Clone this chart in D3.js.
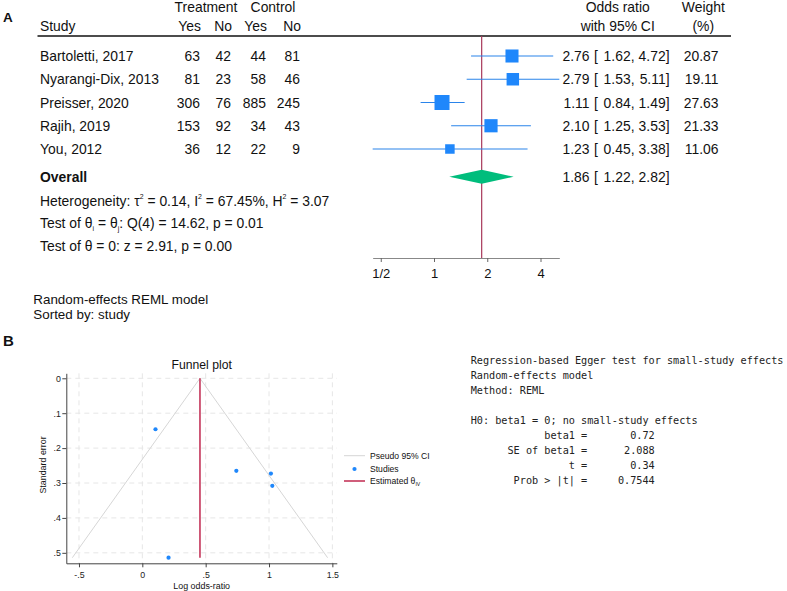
<!DOCTYPE html>
<html>
<head>
<meta charset="utf-8">
<script src="https://cdn.jsdelivr.net/npm/d3@7"></script>
<style>
body { margin: 0; background: #fff; }
svg { font-family: "Liberation Sans", Arial, sans-serif; }
</style>
</head>
<body>
<svg width="787" height="591"></svg>
<script>
// forest plot data (panel A)
var studies   = ["Bartoletti, 2017", "Nyarangi-Dix, 2013", "Preisser, 2020", "Rajih, 2019", "You, 2012"];
var treatYes  = [63, 81, 306, 153, 36];
var treatNo   = [42, 23, 76, 92, 12];
var ctrlYes   = [44, 58, 885, 34, 22];
var ctrlNo    = [81, 46, 245, 43, 9];
var oddsRatio = [2.76, 2.79, 1.11, 2.10, 1.23];
var ciLow     = [1.62, 1.53, 0.84, 1.25, 0.45];
var ciHigh    = [4.72, 5.11, 1.49, 3.53, 3.38];
var weights   = [20.87, 19.11, 27.63, 21.33, 11.06];
var overallOR = [1.86, 1.22, 2.82];   // estimate, low, high
var forestTicks = [0.5, 1, 2, 4];
var forestTickLabels = ["1/2", "1", "2", "4"];

// funnel plot data (panel B)
var logOR   = [1.015, 1.026, 0.104, 0.742, 0.207];
var stdErr  = [0.273, 0.308, 0.146, 0.265, 0.514];
var thetaIV = 0.455;
var funnelXTicks = [-0.5, 0, 0.5, 1, 1.5];
var funnelYTicks = [0, 0.1, 0.2, 0.3, 0.4, 0.5];

var eggerLines = [
  "Regression-based Egger test for small-study effects",
  "Random-effects model",
  "Method: REML",
  "",
  "H0: beta1 = 0; no small-study effects",
  "            beta1 =       0.72",
  "      SE of beta1 =      2.088",
  "                t =       0.34",
  "       Prob > |t| =     0.7544"
];

var svg = d3.select("svg");

function fmt2(v) { return d3.format(".2f")(v); }

// plain text helper, y is the visual centre of the capitals
function label(g, x, y, s, anchor, size, bold) {
  return g.append("text")
    .attr("x", x)
    .attr("y", y + 0.36 * size)
    .attr("text-anchor", anchor || "start")
    .attr("font-size", size)
    .attr("font-weight", bold ? "bold" : null)
    .attr("fill", "#111")
    .text(s);
}

// text with raised / lowered bits: parts = [[string, shift]]
function richLabel(g, x, y, parts, size, small) {
  var t = g.append("text")
    .attr("x", x)
    .attr("y", y + 0.36 * size)
    .attr("font-size", size)
    .attr("fill", "#111");
  var cur = 0;
  parts.forEach(function(p) {
    var shift = p[1] || 0;
    t.append("tspan")
      .attr("dy", shift - cur)
      .attr("font-size", shift ? size * (small || 0.5) : size)
      .text(p[0]);
    cur = shift;
  });
  return t;
}

// ---------------- panel A ----------------
var A = svg.append("g");
label(A, 3, 17, "A", "start", 13.5, true);

var fs = 13.9;
var rowY = d3.scalePoint().domain(studies).range([56, 149]);
var overallY = 176.7;

// columns
var colX = [200, 231, 266, 300];
var cols = [treatYes, treatNo, ctrlYes, ctrlNo];

label(A, 206, 7, "Treatment", "middle", fs);
label(A, 273, 7, "Control", "middle", fs);
label(A, 40, 26, "Study", "start", fs);
["Yes", "No", "Yes", "No"].forEach(function(h, i) {
  label(A, colX[i] + 1, 26, h, "end", fs);
});
label(A, 617.7, 7, "Odds ratio", "middle", fs);
label(A, 617.7, 26, "with 95% CI", "middle", fs);
label(A, 703.3, 7, "Weight", "middle", fs);
label(A, 703.3, 26, "(%)", "middle", fs);

A.append("line")
  .attr("x1", 37.5).attr("x2", 731)
  .attr("y1", 36).attr("y2", 36)
  .attr("stroke", "#111").attr("stroke-width", 1.3);

// log scale for the marks; the axis spans the CI extremes
var xOR = d3.scaleLog().domain([1, 4]).range([434, 540.5]);
var axLo = d3.min(ciLow), axHi = d3.max(ciHigh);
var xAx = d3.scaleLog().domain([axLo, axHi]).range([xOR(axLo), xOR(axHi)]);
var boxSize = d3.scaleSqrt().domain([0, 27.63]).range([0, 15]);

studies.forEach(function(s, i) {
  var y = rowY(s);
  label(A, 40, y, s, "start", fs);
  cols.forEach(function(c, j) {
    label(A, colX[j], y, c[i], "end", fs);
  });
  label(A, 589.5, y, fmt2(oddsRatio[i]), "end", fs);
  label(A, 594, y, "[", "start", fs);
  label(A, 634.5, y, fmt2(ciLow[i]) + ",", "end", fs);
  label(A, 669.5, y, fmt2(ciHigh[i]) + "]", "end", fs);
  label(A, 718.5, y, fmt2(weights[i]), "end", fs);
});

// reference line at the overall estimate
A.append("line")
  .attr("x1", xOR(overallOR[0])).attr("x2", xOR(overallOR[0]))
  .attr("y1", 36).attr("y2", 258)
  .attr("stroke", "#a8385a").attr("stroke-width", 1.2);

var marks = A.append("g");
marks.selectAll("line.ci")
  .data(studies)
  .enter().append("line")
    .attr("class", "ci")
    .attr("x1", function(d, i) { return xOR(ciLow[i]); })
    .attr("x2", function(d, i) { return xOR(ciHigh[i]); })
    .attr("y1", function(d) { return rowY(d); })
    .attr("y2", function(d) { return rowY(d); })
    .attr("stroke", "#2a84ea")
    .attr("stroke-width", 1.1);

marks.selectAll("rect.box")
  .data(studies)
  .enter().append("rect")
    .attr("class", "box")
    .attr("x", function(d, i) { return xOR(oddsRatio[i]) - boxSize(weights[i]) / 2; })
    .attr("y", function(d, i) { return rowY(d) - boxSize(weights[i]) / 2; })
    .attr("width", function(d, i) { return boxSize(weights[i]); })
    .attr("height", function(d, i) { return boxSize(weights[i]); })
    .attr("fill", "#1f87fb");

// overall diamond
A.append("path")
  .attr("d", "M" + xOR(overallOR[1]) + "," + overallY +
             "L" + xOR(overallOR[0]) + "," + (overallY - 7) +
             "L" + xOR(overallOR[2]) + "," + overallY +
             "L" + xOR(overallOR[0]) + "," + (overallY + 7) + "Z")
  .attr("fill", "#00bd7c");

label(A, 40, overallY, "Overall", "start", fs, true);
label(A, 589.5, overallY, fmt2(overallOR[0]), "end", fs);
label(A, 594, overallY, "[", "start", fs);
label(A, 634.5, overallY, fmt2(overallOR[1]) + ",", "end", fs);
label(A, 669.5, overallY, fmt2(overallOR[2]) + "]", "end", fs);

richLabel(A, 40, 200.7, [["Heterogeneity: \u03c4", 0], ["2", -6.5], [" = 0.14, I", 0], ["2", -6.5],
  [" = 67.45%, H", 0], ["2", -6.5], [" = 3.07", 0]], fs);
richLabel(A, 40, 223.3, [["Test of \u03b8", 0], ["i", 2.5], [" = \u03b8", 0], ["j", 2.5],
  [": Q(4) = 14.62, p = 0.01", 0]], fs);
label(A, 40, 246, "Test of \u03b8 = 0: z = 2.91, p = 0.00", "start", fs);

var forestAxis = d3.axisBottom(xAx)
  .tickValues(forestTicks)
  .tickFormat(function(d, i) { return forestTickLabels[i]; })
  .tickSize(4)
  .tickSizeOuter(0)
  .tickPadding(6.5);

var fa = A.append("g")
  .attr("transform", "translate(0,258)")
  .call(forestAxis);
fa.select(".domain").attr("stroke", "#888").attr("stroke-width", 1.2);
fa.selectAll(".tick line").attr("stroke", "#666");
fa.selectAll(".tick text")
  .attr("font-size", 13)
  .attr("font-family", "Liberation Sans, Arial, sans-serif")
  .attr("fill", "#111");

label(A, 33.3, 299.5, "Random-effects REML model", "start", 13.4);
label(A, 33.3, 314, "Sorted by: study", "start", 13.4);

// ---------------- panel B ----------------
var B = svg.append("g");
label(B, 3, 341, "B", "start", 15, true);

var fx = d3.scaleLinear().domain([-0.6, 1.535]).range([66.3, 336.8]);
var fy = d3.scaleLinear().domain([-0.0143, 0.530]).range([373.3, 563.3]);

// grid
B.selectAll("line.vgrid")
  .data(funnelXTicks)
  .enter().append("line")
    .attr("x1", function(d) { return fx(d); })
    .attr("x2", function(d) { return fx(d); })
    .attr("y1", fy.range()[0]).attr("y2", fy.range()[1])
    .attr("stroke", "#e6e6e6").attr("stroke-dasharray", "5,4");
B.selectAll("line.hgrid")
  .data(funnelYTicks)
  .enter().append("line")
    .attr("x1", fx.range()[0]).attr("x2", fx.range()[1])
    .attr("y1", function(d) { return fy(d); })
    .attr("y2", function(d) { return fy(d); })
    .attr("stroke", "#e6e6e6").attr("stroke-dasharray", "5,4");

var seMax = d3.max(stdErr);

// pseudo 95% CI limits
var funnelLine = d3.line()
  .x(function(d) { return fx(d[0]); })
  .y(function(d) { return fy(d[1]); });
B.append("path")
  .datum([[thetaIV - 1.96 * seMax, seMax], [thetaIV, 0], [thetaIV + 1.96 * seMax, seMax]])
  .attr("d", funnelLine)
  .attr("fill", "none")
  .attr("stroke", "#d6d6d6")
  .attr("stroke-width", 1);

// estimated theta_IV
B.append("line")
  .attr("x1", fx(thetaIV)).attr("x2", fx(thetaIV))
  .attr("y1", fy(0)).attr("y2", fy(seMax))
  .attr("stroke", "#c0284f").attr("stroke-width", 1.5);

B.selectAll("circle.study")
  .data(logOR)
  .enter().append("circle")
    .attr("class", "study")
    .attr("cx", function(d) { return fx(d); })
    .attr("cy", function(d, i) { return fy(stdErr[i]); })
    .attr("r", 2.1)
    .attr("fill", "#1f87fb");

function stataNum(d) {
  if (d === 0) return "0";
  var s = String(d);
  return s.replace(/^0\./, ".").replace(/^-0\./, "-.");
}

var xAxisF = d3.axisBottom(fx).tickValues(funnelXTicks).tickFormat(stataNum)
  .tickSize(4).tickSizeOuter(0).tickPadding(4);
var yAxisF = d3.axisLeft(fy).tickValues(funnelYTicks).tickFormat(stataNum)
  .tickSize(4).tickSizeOuter(0).tickPadding(1.5);

var gx = B.append("g").attr("transform", "translate(0," + fy.range()[1] + ")").call(xAxisF);
var gy = B.append("g").attr("transform", "translate(" + fx.range()[0] + ",0)").call(yAxisF);
[gx, gy].forEach(function(a) {
  a.select(".domain").attr("stroke", "#444");
  a.selectAll(".tick line").attr("stroke", "#444");
  a.selectAll(".tick text")
    .attr("font-size", 8.8)
    .attr("font-family", "Liberation Sans, Arial, sans-serif")
    .attr("fill", "#222");
});

label(B, 201.7, 365, "Funnel plot", "middle", 12.2);
label(B, 201.7, 586, "Log odds-ratio", "middle", 8.9);
B.append("text")
  .attr("transform", "translate(45.8,465) rotate(-90)")
  .attr("text-anchor", "middle")
  .attr("font-size", 8.9)
  .attr("fill", "#111")
  .text("Standard error");

// legend
var lg = B.append("g");
lg.append("line").attr("x1", 344).attr("x2", 365).attr("y1", 455.7).attr("y2", 455.7)
  .attr("stroke", "#d6d6d6");
lg.append("circle").attr("cx", 354.5).attr("cy", 469).attr("r", 2.1).attr("fill", "#1f87fb");
lg.append("line").attr("x1", 344).attr("x2", 365).attr("y1", 481).attr("y2", 481)
  .attr("stroke", "#c0284f").attr("stroke-width", 1.5);
label(lg, 370, 455.7, "Pseudo 95% CI", "start", 8.6);
label(lg, 370, 468.5, "Studies", "start", 8.6);
richLabel(lg, 370, 481, [["Estimated \u03b8", 0], ["IV", 2]], 8.6, 0.6);

// Egger test output
var eg = B.append("g");
eg.selectAll("text")
  .data(eggerLines)
  .enter().append("text")
    .attr("x", 470.7)
    .attr("y", function(d, i) { return 364.3 + i * 15; })
    .attr("xml:space", "preserve")
    .style("white-space", "pre")
    .attr("font-family", "DejaVu Sans Mono, monospace")
    .attr("font-size", 10.2)
    .attr("fill", "#222")
    .text(function(d) { return d; });
</script>
</body>
</html>
